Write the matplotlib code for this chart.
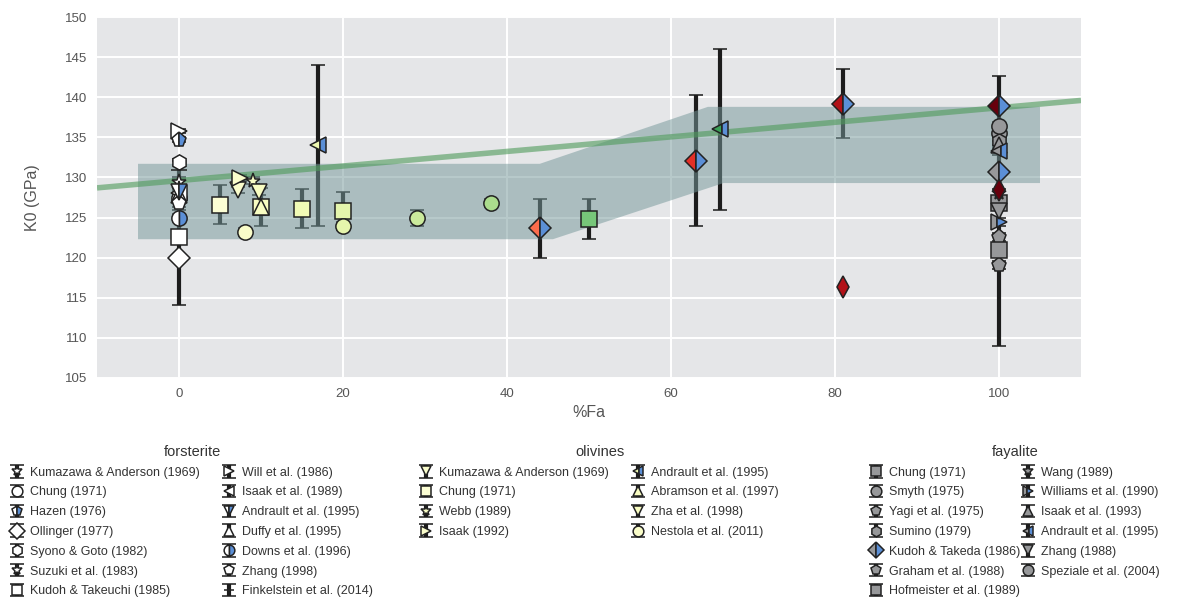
import matplotlib
matplotlib.use('Agg')
import matplotlib.pyplot as plt

plt.rcParams['font.family'] = ['Liberation Sans', 'DejaVu Sans']

# ---- data ----
# forsterite end member (Fa = 0)
fo_labels = ['Kumazawa & Anderson (1969)', 'Chung (1971)', 'Hazen (1976)', 'Ollinger (1977)',
             'Syono & Goto (1982)', 'Suzuki et al. (1983)', 'Kudoh & Takeuchi (1985)',
             'Will et al. (1986)', 'Isaak et al. (1989)', 'Andrault et al. (1995)',
             'Duffy et al. (1995)', 'Downs et al. (1996)', 'Zhang (1998)', 'Finkelstein et al. (2014)']
fo_k0 = [129.4, 127.4, 134.7, 120.0, 131.9, 128.6, 122.6, 135.8, 128.0, 128.2, 127.8, 125.0, 126.8, 130.9]
fo_err = [0.6, 0.5, 0.3, 5.9, 0.4, 0.5, 0.3, 0.3, 0.5, 0.5, 0.5, 0.5, 0.5, 1.1]

# olivines: (%Fa, K0, error) per study
ol_labels = ['Kumazawa & Anderson (1969)', 'Chung (1971)', 'Webb (1989)', 'Isaak (1992)',
             'Andrault et al. (1995)', 'Abramson et al. (1997)', 'Zha et al. (1998)',
             'Nestola et al. (2011)']
ol_fa = [[7.2], [5, 10, 15, 20, 50], [9.0], [7.4], [17, 66], [10], [9.8], [8, 20, 29, 38]]
ol_k0 = [[128.4], [126.6, 126.3, 126.1, 125.8, 124.8], [129.6], [129.9], [134.0, 136.0],
         [126.3], [128.2], [123.2, 124.0, 125.0, 126.8]]
ol_err = [[0.4], [2.4, 2.4, 2.4, 2.4, 2.5], [0.4], [0.4], [10.0, 10.0], [0.5], [0.4],
          [0.5, 0.5, 1.0, 0.5]]

# fayalite end member (Fa = 100)
fa_labels = ['Chung (1971)', 'Smyth (1975)', 'Yagi et al. (1975)', 'Sumino (1979)',
             'Kudoh & Takeda (1986)', 'Graham et al. (1988)', 'Hofmeister et al. (1989)',
             'Wang (1989)', 'Williams et al. (1990)', 'Isaak et al. (1993)',
             'Andrault et al. (1995)', 'Zhang (1988)', 'Speziale et al. (2004)']
fa_k0 = [126.8, 135.5, 122.6, 134.6, 130.7, 119.1, 121.0, 128.0, 124.5, 134.0, 133.3, 125.8, 136.4]
fa_err = [0.5, 0.5, 0.5, 0.5, 0.0, 0.5, 0.5, 0.5, 0.5, 0.5, 0.5, 16.8, 0.5]

# unlabelled half-filled diamonds and plain diamonds
dia_fa = [44, 63, 81, 100]
dia_k0 = [123.65, 132.1, 139.2, 138.9]
dia_err = [3.7, 8.2, 4.3, 0.0]
thin_fa = [81, 100]
thin_k0 = [116.4, 128.4]

# trend line and band
line_fa = [-10, 110]
line_k0 = [128.7, 139.6]
band_top_fa = [-5, 44, 64.5, 105]
band_top_k0 = [131.7, 131.7, 138.8, 138.8]
band_bot_fa = [105, 66.4, 45.6, -5]
band_bot_k0 = [129.3, 129.3, 122.3, 122.3]

# ---- styles ----
fo_markers = ['*', 'o', 'p', 'D', 'h', '*', 's', '>', '<', 'v', '^', 'o', 'p', '_']
fo_half = [False, False, True, False, False, False, False, False, False, True, False, True, False, False]
ol_markers = ['v', 's', '*', '>', '<', '^', 'v', 'o']
ol_half = [False, False, False, False, True, False, False, False]
fa_markers = ['s', 'o', 'p', 'h', 'D', 'p', 's', '*', '>', '^', '<', 'v', 'o']
fa_half = [False, False, False, False, True, False, False, False, True, False, True, False, False]

BLUE = '#5b8fd6'
GRAY = '#97989a'
EDGE = '#222222'
BAR = '#1c1c1c'
ylgn = plt.get_cmap('YlGn')
reds = plt.get_cmap('Reds')


def study(ax, fa, k0, err, marker, face, half, label=None, z=5):
    kw = dict(fmt=marker, ms=11, mfc=face, mec=EDGE, mew=1.1,
              ecolor=BAR, elinewidth=3, capsize=5, capthick=2, label=label)
    if half:
        kw.update(fillstyle='left', markerfacecoloralt=BLUE)
    if err is None:
        eb = ax.errorbar(fa, k0, **kw)
    else:
        eb = ax.errorbar(fa, k0, yerr=err, **kw)
    eb[0].set_zorder(z)
    for c in eb[1]:
        c.set_zorder(1)
    for b in eb[2]:
        b.set_zorder(1)
    return eb


fig = plt.figure(figsize=(11.96, 5.99), dpi=100)
ax = fig.add_axes([97 / 1196, 1 - 378 / 599, 984 / 1196, 361 / 599])
ax.set_facecolor('#e5e6e8')
for s in ax.spines.values():
    s.set_visible(False)
ax.grid(True, color='white', lw=1.4)
ax.set_axisbelow(True)

# band and trend
ax.fill(band_top_fa + band_bot_fa, band_top_k0 + band_bot_k0,
        color='#77999b', alpha=0.52, lw=0, zorder=2)
ax.plot(line_fa, line_k0, color='#4e9a5a', alpha=0.6, lw=4, zorder=3,
        solid_capstyle='butt')

fo_handles = []
for i, lab in enumerate(fo_labels):
    face = 'white' if fo_markers[i] != '_' else EDGE
    fo_handles.append(study(ax, [0], [fo_k0[i]], [fo_err[i]], fo_markers[i], face,
                            fo_half[i], lab, z=6 if fo_half[i] else 5))

ol_handles = []
for i, lab in enumerate(ol_labels):
    for j in range(len(ol_fa[i])):
        eb = study(ax, [ol_fa[i][j]], [ol_k0[i][j]], [ol_err[i][j]], ol_markers[i],
                   ylgn(ol_fa[i][j] / 100), ol_half[i], lab if j == 0 else None)
        if j == 0:
            ol_handles.append(eb)

fa_handles = []
for i, lab in enumerate(fa_labels):
    err = [fa_err[i]] if fa_err[i] > 0 else None
    fa_handles.append(study(ax, [100], [fa_k0[i]], err, fa_markers[i], GRAY, fa_half[i], lab))

for f, k, e in zip(dia_fa, dia_k0, dia_err):
    study(ax, [f], [k], [e] if e > 0 else None, 'D', reds(0.1 + 0.9 * f / 100), True)
for f, k in zip(thin_fa, thin_k0):
    study(ax, [f], [k], None, 'd', reds(0.1 + 0.9 * f / 100), False)

ax.set_xlim(-10, 110)
ax.set_ylim(105, 150)
ax.set_xticks([0, 20, 40, 60, 80, 100])
ax.set_yticks(range(105, 151, 5))
ax.tick_params(length=0, labelsize=9.5, labelcolor='#555555', pad=7)
ax.set_xlabel('%Fa', fontsize=11.5, color='#555555', labelpad=4)
ax.set_ylabel('K0 (GPa)', fontsize=11.5, color='#555555', labelpad=18)

leg_kw = dict(ncol=2, loc='upper left', frameon=False, fontsize=9, title_fontsize=10.5,
              markerscale=0.7, handlelength=0.85, handletextpad=0.6,
              labelspacing=0.62, borderaxespad=0)
for handles, labels, title, x0, cs in [(fo_handles, fo_labels, 'forsterite', 7, 1.9),
                                       (ol_handles, ol_labels, 'olivines', 416, 1.9),
                                       (fa_handles, fa_labels, 'fayalite', 866, 0.2)]:
    leg = fig.legend(handles, labels, title=title, bbox_to_anchor=(x0 / 1196, 1 - 440 / 599),
                     columnspacing=cs, **leg_kw)
    for t in leg.get_texts():
        t.set_color('#333333')
    leg.get_title().set_color('#333333')

fig.savefig('out.png', dpi=100)
